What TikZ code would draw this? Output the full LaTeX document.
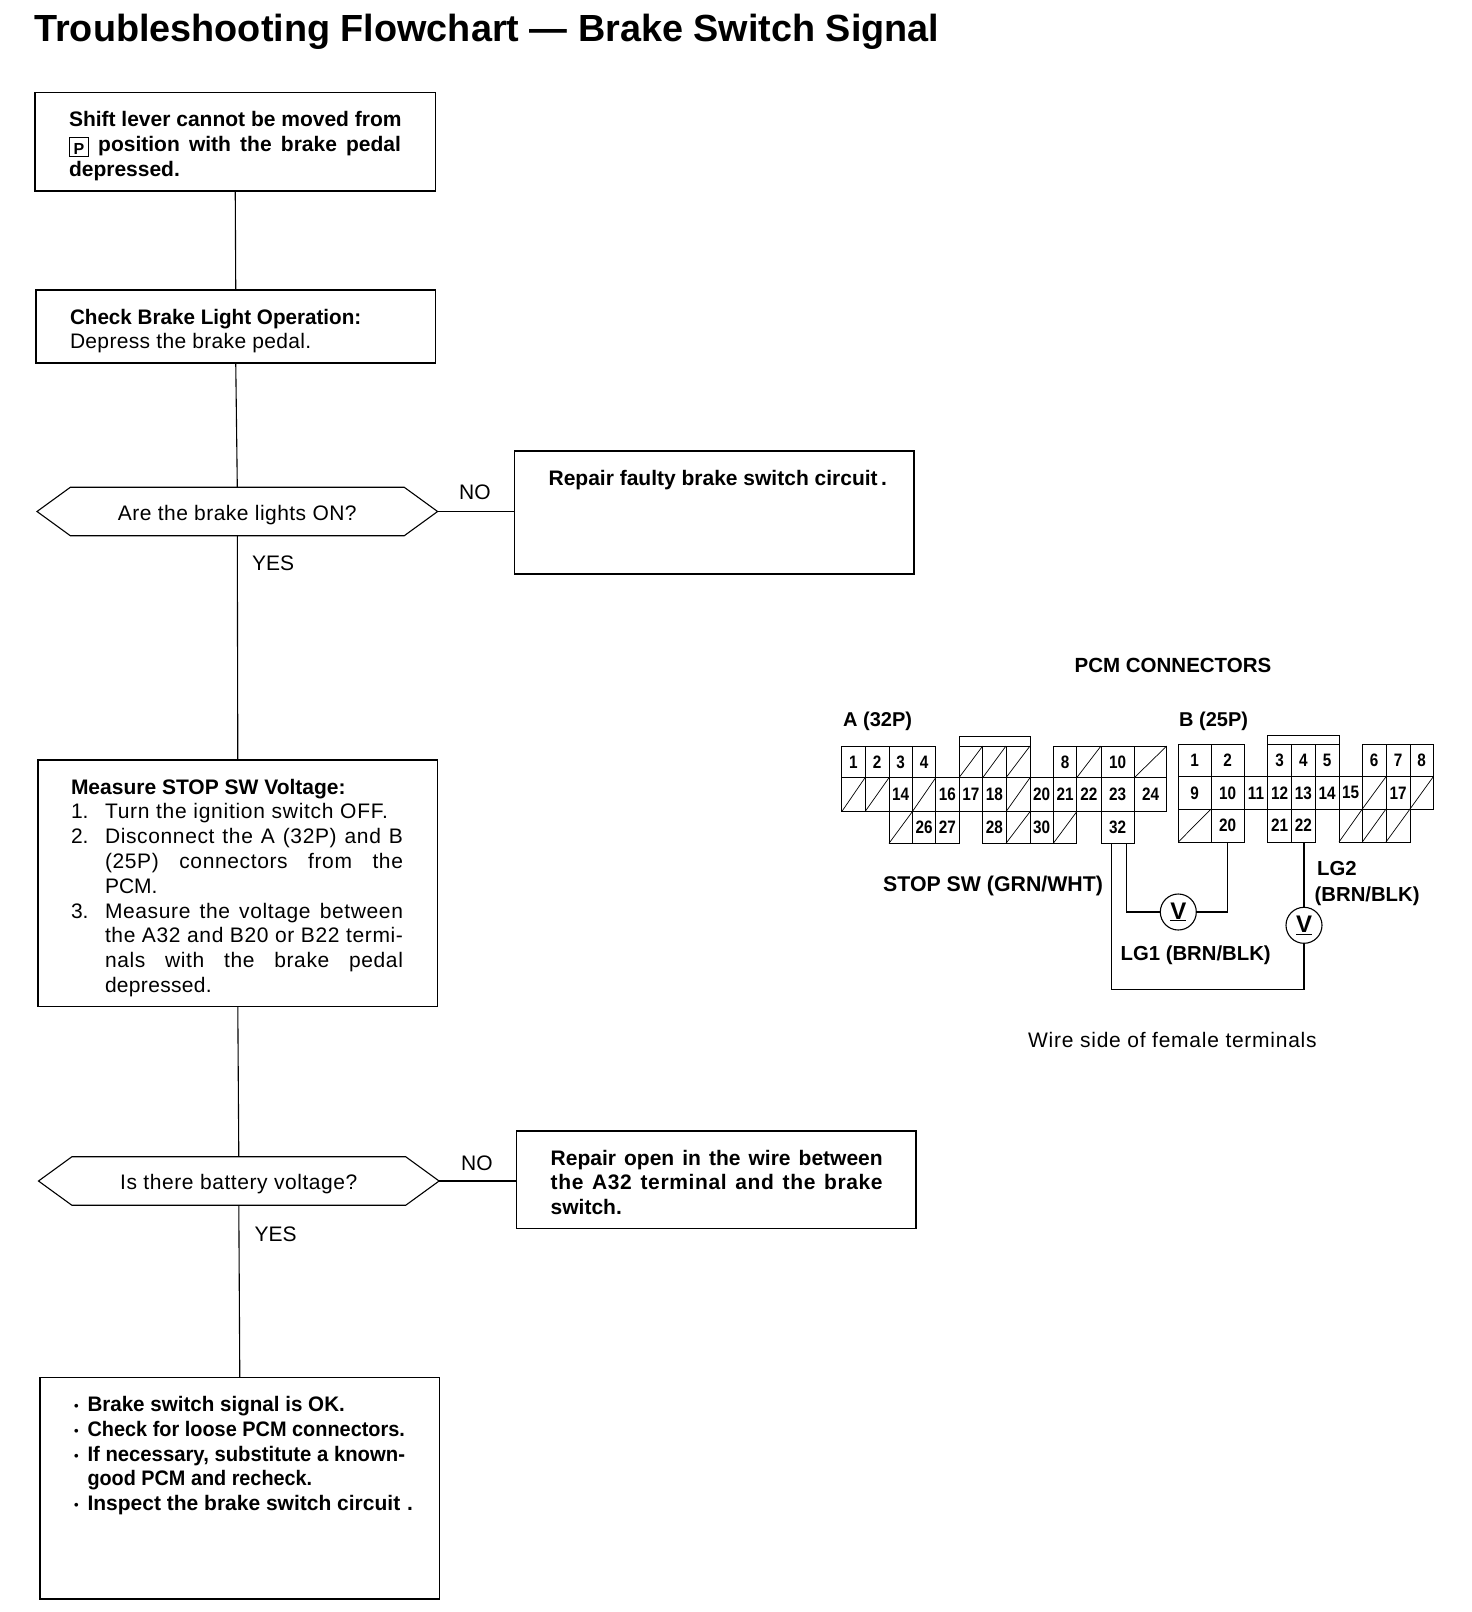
\documentclass[tikz,border=0pt]{standalone}
\usepackage{fontspec}
\usepackage{graphicx}
\setmainfont{Liberation Sans}
\usetikzlibrary{shapes.symbols}
\newcommand\txtfont{\fontsize{21}{24.8}\selectfont}
\newcommand\ls[1]{\addfontfeature{LetterSpace=#1}}
\newcommand\sq[2]{\scalebox{#1}[1]{#2}}
\tikzset{
  x=1pt,y=-1pt,
  flowrect/.style={draw,line width=1.1pt,rectangle,anchor=north west,inner sep=0pt,outer sep=0pt,font=\txtfont},
  flowhex/.style={draw,line width=1.1pt,signal,signal to=east and west,signal pointer angle=72,minimum width=400.6pt,minimum height=48.5pt,inner sep=0pt,outer sep=0pt,font=\txtfont},
  flowline/.style={line width=1.1pt},
  lab/.style={anchor=base west,inner sep=0pt,font=\txtfont},
  blab/.style={anchor=base west,inner sep=0pt,font=\txtfont\bfseries},
  pincell/.style={draw,line width=.7pt,rectangle,inner sep=0pt,outer sep=0pt,font=\fontsize{18}{18}\selectfont\bfseries},
  wire/.style={line width=1.4pt},
  meter/.style={draw,circle,line width=1.1pt,minimum size=36pt,inner sep=0pt,outer sep=0pt,font=\fontsize{24}{24}\selectfont\bfseries}
}
\newcommand\flowbox[7][34]{%
  \pgfmathsetmacro\bw{#5-#3}\pgfmathsetmacro\bh{#6-#4}%
  \node[flowrect] (#2) at (#3,#4) {\parbox[c][\bh pt][t]{\bw pt}{\raggedright\leftskip=#1pt\relax\rule{0pt}{34pt}#7}};}
\newcommand\pin[6]{%
  \pgfmathsetmacro\pw{#3-#2}\pgfmathsetmacro\ph{#5-#4}%
  \pgfmathsetmacro\px{(#2+#3)/2}\pgfmathsetmacro\py{(#4+#5)/2}%
  \node[pincell,minimum width=\pw pt,minimum height=\ph pt] (#1) at (\px,\py) {\scalebox{.85}[1]{#6}};}
\newcommand\slashpin[5]{\pin{#1}{#2}{#3}{#4}{#5}{}\draw[line width=.7pt] (#1.south west) -- (#1.north east);}
\newcommand\jline[1]{\makebox[298pt][s]{#1}}
\newcommand\bjline[1]{\makebox[332pt][s]{#1}}
\newcommand\numl[2]{\makebox[34pt][l]{#1}#2}
\newcommand\bull[1]{\makebox[13.5pt][l]{\raisebox{1pt}{\fontsize{13}{13}\selectfont •}}#1}
\newcommand\hextext[1]{\raisebox{-8.5pt}[0pt][0pt]{#1}}
\def\acols{841.7,865,889,912.3,935.7,959,982.7,1006,1030,1053.3,1076.7,1101,1134.3,1166.7}
\def\bcols{1178.3,1211,1244.3,1267.7,1291.7,1315,1339,1362.3,1386,1410,1433.3}
\begin{document}
\begin{tikzpicture}
\useasboundingbox (0,0) rectangle (1472,1612);
\fill[white] (0,0) rectangle (1472,1612);

\node[anchor=base west,inner sep=0pt,font=\fontsize{37.8}{38}\selectfont\bfseries] (title) at (34,41) {Troubleshooting Flowchart — Brake Switch Signal};

% flowchart
\flowbox{b1}{35}{92.5}{435.5}{191}{\bfseries Shift lever cannot be moved from\\
  \bjline{\raisebox{-3pt}{\fboxsep=0pt\fboxrule=1pt\framebox[20pt]{\fontsize{16}{18}\selectfont\rule[-2pt]{0pt}{18pt}P}} position with the brake pedal}\\ depressed.}
\flowbox{b2}{36}{290}{435.5}{363}{\sq{.983}{\textbf{Check Brake Light Operation:}}\\ {\ls{1.6}Depress the brake pedal.}}
\node[flowhex] (h1) at (237.3,511.5) {\hextext{\ls{2.2}Are the brake lights ON?}};
\flowbox{r1}{514.6}{451}{914}{574}{\bfseries Repair faulty brake switch circuit\,.}
\flowbox[33]{b3}{38}{760}{437.6}{1006.5}{\textbf{Measure STOP SW Voltage:}\\
  \numl{1.}{{\ls{3.5}Turn the ignition switch OFF.}}\\
  \numl{2.}{\jline{\ls{3}Disconnect the A (32P) and B}}\\
  \numl{}{\jline{\ls{3}(25P) connectors from the}}\\
  \numl{}{PCM.}\\
  \numl{3.}{\jline{\ls{3}Measure the voltage between}}\\
  \numl{}{\jline{\ls{3}the A32 and B20 or B22 termi-}}\\
  \numl{}{\jline{\ls{3}nals with the brake pedal}}\\
  \numl{}{{\ls{1.5}depressed.}}}
\node[flowhex] (h2) at (238.8,1181) {\hextext{\ls{2.7}Is there battery voltage?}};
\flowbox{r2}{516.7}{1131}{916}{1228.5}{\bfseries \bjline{Repair open in the wire between}\\ \bjline{\ls{3}the A32 terminal and the brake}\\ switch.}
\flowbox{b4}{40}{1377.5}{439.6}{1599}{\bfseries
  \bull{\sq{.98}{Brake switch signal is OK.}}\\
  \bull{\sq{.948}{Check for loose PCM connectors.}}\\
  \bull{\sq{.966}{If necessary, substitute a known-}}\\
  \makebox[13.5pt]{}\sq{.944}{good PCM and recheck.}\\
  \bull{Inspect the brake switch circuit\,\,.}}

\draw[flowline] (b1.south) -- (b2.north);
\draw[flowline] (b2.south) -- (h1.north);
\draw[flowline] (h1.south) -- (b3.north);
\draw[flowline] (b3.south) -- (h2.north);
\draw[flowline] (h2.south) -- (b4.north);
\draw[flowline] (h1.east) -- (h1.east -| r1.west);
\draw[flowline] (h2.east) -- (h2.east -| r2.west);

\node[lab] (no1) at (459,499) {NO};
\node[lab] (yes1) at (252,570) {YES};
\node[lab] (no2) at (461,1170) {NO};
\node[lab] (yes2) at (254.5,1241) {YES};

% connector A
\foreach \c/\t/\ya/\yb in {0/1/746/777.7,1/2/746/777.7,2/3/746/777.7,3/4/746/777.7,9/8/746/777.7,11/10/746/777.7,
  2/14/777.7/811.7,4/16/777.7/811.7,5/17/777.7/811.7,6/18/777.7/811.7,8/20/777.7/811.7,9/21/777.7/811.7,10/22/777.7/811.7,11/23/777.7/811.7,12/24/777.7/811.7,
  3/26/811.7/843.3,4/27/811.7/843.3,6/28/811.7/843.3,8/30/811.7/843.3,11/32/811.7/843.3}{
  \pgfmathsetmacro\xa{{\acols}[\c]}\pgfmathsetmacro\xb{{\acols}[\c+1]}
  \pin{A\t}{\xa}{\xb}{\ya}{\yb}{\t}
}
\foreach \c/\n/\ya/\yb in {5/a/746/777.7,6/b/746/777.7,7/c/746/777.7,10/d/746/777.7,12/e/746/777.7,
  0/f/777.7/811.7,1/g/777.7/811.7,3/h/777.7/811.7,7/i/777.7/811.7,
  2/j/811.7/843.3,7/k/811.7/843.3,9/l/811.7/843.3}{
  \pgfmathsetmacro\xa{{\acols}[\c]}\pgfmathsetmacro\xb{{\acols}[\c+1]}
  \slashpin{As\n}{\xa}{\xb}{\ya}{\yb}
}
\draw[line width=.7pt] (Asa.north west) -- ++(0,-10) -| (Asc.north east);

% connector B
\foreach \c/\t/\ya/\yb in {0/1/744/776.7,1/2/744/776.7,3/3/744/776.7,4/4/744/776.7,5/5/744/776.7,7/6/744/776.7,8/7/744/776.7,9/8/744/776.7,
  0/9/776.7/809,1/10/776.7/809,2/11/776.7/809,3/12/776.7/809,4/13/776.7/809,5/14/776.7/809,6/15/776.7/809,8/17/776.7/809,
  1/20/809/842,3/21/809/842,4/22/809/842}{
  \pgfmathsetmacro\xa{{\bcols}[\c]}\pgfmathsetmacro\xb{{\bcols}[\c+1]}
  \pin{B\t}{\xa}{\xb}{\ya}{\yb}{\t}
}
\foreach \c/\n/\ya/\yb in {7/a/776.7/809,9/b/776.7/809,0/c/809/842,6/d/809/842,7/e/809/842,8/f/809/842}{
  \pgfmathsetmacro\xa{{\bcols}[\c]}\pgfmathsetmacro\xb{{\bcols}[\c+1]}
  \slashpin{Bs\n}{\xa}{\xb}{\ya}{\yb}
}
\draw[line width=.7pt] (B3.north west) -- ++(0,-9) -| (B5.north east);

% wiring
\node[meter] (v1) at (1178.3,912) {\underline{V}};
\node[meter] (v2) at (1304,925.3) {\underline{V}};
\coordinate (wa) at (1111.7,843.3);
\coordinate (wb) at (1126.7,843.3);
\coordinate (wc) at (1111.7,989.3);
\draw[wire] (wa) -- (wc) -| (v2.south);
\draw[wire] (v2.north) -- (v2.north |- B22.south);
\draw[wire] (wb) |- (v1.west);
\draw[wire] (v1.east) -| (B20.south);

% labels
\node[anchor=base,inner sep=0pt,font=\fontsize{20.5}{20.5}\selectfont\bfseries] (pcm) at (1173,672) {PCM CONNECTORS};
\node[blab,font=\fontsize{20}{20}\selectfont\bfseries] (la) at (843,726.5) {A (32P)};
\node[blab,font=\fontsize{20}{20}\selectfont\bfseries] (lb) at (1179,726.5) {B (25P)};
\node[blab,font=\fontsize{21.3}{22}\selectfont\bfseries] (stop) at (883,891.5) {STOP SW (GRN/WHT)};
\node[blab,font=\fontsize{20.3}{22}\selectfont\bfseries] (lg1) at (1120.5,960) {LG1 (BRN/BLK)};
\node[blab,font=\fontsize{20.3}{22}\selectfont\bfseries] (lg2) at (1317,875.5) {LG2};
\node[blab,font=\fontsize{20.3}{22}\selectfont\bfseries] (lg2b) at (1314.5,901) {(BRN/BLK)};
\node[lab] (wside) at (1028,1047.5) {\ls{3.5}Wire side of female terminals};
\end{tikzpicture}
\end{document}
